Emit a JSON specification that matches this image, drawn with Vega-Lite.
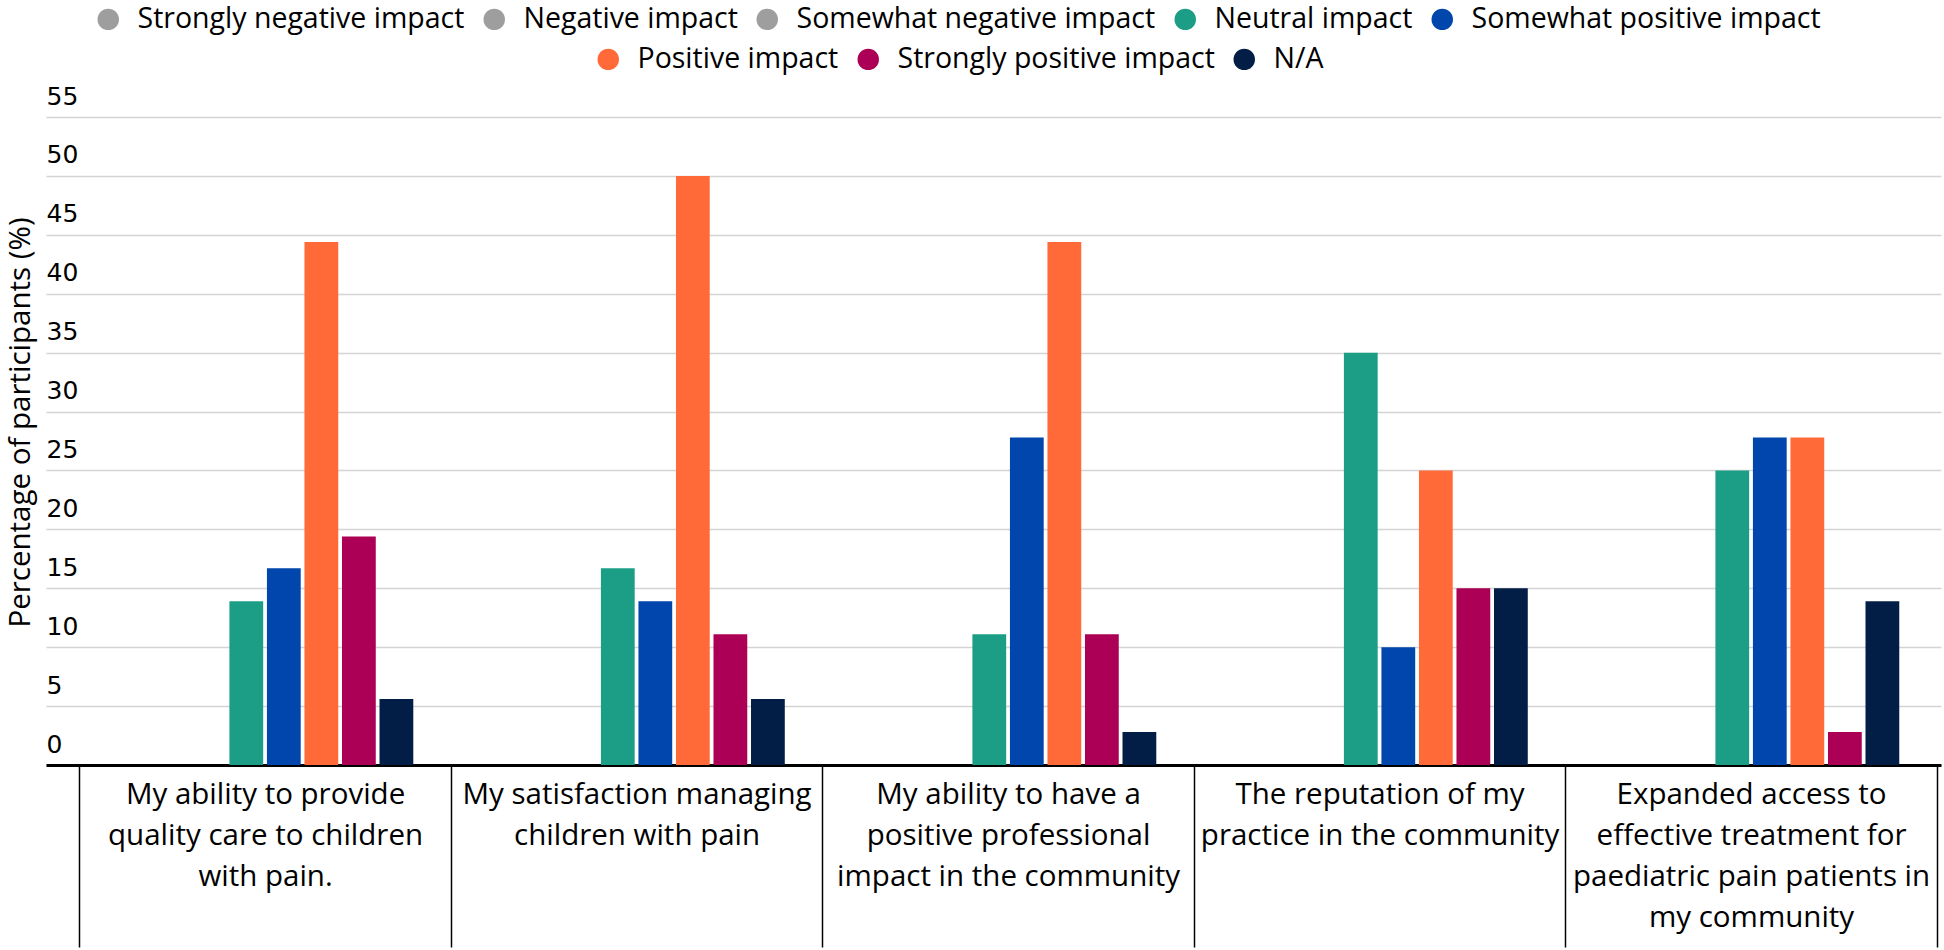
{
  "$schema": "https://vega.github.io/schema/vega-lite/v6.json",
  "autosize": "none",
  "width": 1895,
  "height": 648,
  "padding": {"left": 46, "top": 117, "right": 3, "bottom": 185},
  "background": "white",
  "config": {"view": {"stroke": null}, "font": "Open Sans"},
  "data": {"values": [
    {"q": "My ability to provide|quality care to children|with pain.", "r": "Strongly negative impact", "v": 0},
    {"q": "My ability to provide|quality care to children|with pain.", "r": "Negative impact", "v": 0},
    {"q": "My ability to provide|quality care to children|with pain.", "r": "Somewhat negative impact", "v": 0},
    {"q": "My ability to provide|quality care to children|with pain.", "r": "Neutral impact", "v": 13.9},
    {"q": "My ability to provide|quality care to children|with pain.", "r": "Somewhat positive impact", "v": 16.7},
    {"q": "My ability to provide|quality care to children|with pain.", "r": "Positive impact", "v": 44.4},
    {"q": "My ability to provide|quality care to children|with pain.", "r": "Strongly positive impact", "v": 19.4},
    {"q": "My ability to provide|quality care to children|with pain.", "r": "N/A", "v": 5.6},
    {"q": "My satisfaction managing|children with pain", "r": "Strongly negative impact", "v": 0},
    {"q": "My satisfaction managing|children with pain", "r": "Negative impact", "v": 0},
    {"q": "My satisfaction managing|children with pain", "r": "Somewhat negative impact", "v": 0},
    {"q": "My satisfaction managing|children with pain", "r": "Neutral impact", "v": 16.7},
    {"q": "My satisfaction managing|children with pain", "r": "Somewhat positive impact", "v": 13.9},
    {"q": "My satisfaction managing|children with pain", "r": "Positive impact", "v": 50},
    {"q": "My satisfaction managing|children with pain", "r": "Strongly positive impact", "v": 11.1},
    {"q": "My satisfaction managing|children with pain", "r": "N/A", "v": 5.6},
    {"q": "My ability to have a|positive professional|impact in the community", "r": "Strongly negative impact", "v": 0},
    {"q": "My ability to have a|positive professional|impact in the community", "r": "Negative impact", "v": 0},
    {"q": "My ability to have a|positive professional|impact in the community", "r": "Somewhat negative impact", "v": 0},
    {"q": "My ability to have a|positive professional|impact in the community", "r": "Neutral impact", "v": 11.1},
    {"q": "My ability to have a|positive professional|impact in the community", "r": "Somewhat positive impact", "v": 27.8},
    {"q": "My ability to have a|positive professional|impact in the community", "r": "Positive impact", "v": 44.4},
    {"q": "My ability to have a|positive professional|impact in the community", "r": "Strongly positive impact", "v": 11.1},
    {"q": "My ability to have a|positive professional|impact in the community", "r": "N/A", "v": 2.8},
    {"q": "The reputation of my|practice in the community", "r": "Strongly negative impact", "v": 0},
    {"q": "The reputation of my|practice in the community", "r": "Negative impact", "v": 0},
    {"q": "The reputation of my|practice in the community", "r": "Somewhat negative impact", "v": 0},
    {"q": "The reputation of my|practice in the community", "r": "Neutral impact", "v": 35},
    {"q": "The reputation of my|practice in the community", "r": "Somewhat positive impact", "v": 10},
    {"q": "The reputation of my|practice in the community", "r": "Positive impact", "v": 25},
    {"q": "The reputation of my|practice in the community", "r": "Strongly positive impact", "v": 15},
    {"q": "The reputation of my|practice in the community", "r": "N/A", "v": 15},
    {"q": "Expanded access to|effective treatment for|paediatric pain patients in|my community", "r": "Strongly negative impact", "v": 0},
    {"q": "Expanded access to|effective treatment for|paediatric pain patients in|my community", "r": "Negative impact", "v": 0},
    {"q": "Expanded access to|effective treatment for|paediatric pain patients in|my community", "r": "Somewhat negative impact", "v": 0},
    {"q": "Expanded access to|effective treatment for|paediatric pain patients in|my community", "r": "Neutral impact", "v": 25},
    {"q": "Expanded access to|effective treatment for|paediatric pain patients in|my community", "r": "Somewhat positive impact", "v": 27.8},
    {"q": "Expanded access to|effective treatment for|paediatric pain patients in|my community", "r": "Positive impact", "v": 27.8},
    {"q": "Expanded access to|effective treatment for|paediatric pain patients in|my community", "r": "Strongly positive impact", "v": 2.8},
    {"q": "Expanded access to|effective treatment for|paediatric pain patients in|my community", "r": "N/A", "v": 13.9}
  ]},
  "encoding": {
    "x": {
      "field": "q", "type": "nominal", "sort": null,
      "scale": {"paddingInner": 0, "paddingOuter": 0.0505, "align": 0.888},
      "axis": {
        "title": null, "domainColor": "black", "domainWidth": 3,
        "tickBand": "extent", "tickColor": "black", "tickWidth": 1.5, "tickSize": 182,
        "labelPadding": -167, "labelFont": "Open Sans", "labelFontSize": 29.5, "labelColor": "black",
        "labelAngle": 0, "labelBaseline": "top", "labelLineHeight": 41, "labelLimit": 0,
        "labelOverlap": false, "labelExpr": "split(datum.label, '|')", "grid": false
      }
    },
    "xOffset": {
      "field": "r", "type": "nominal",
      "scale": {
        "domain": ["Strongly negative impact", "Negative impact", "Somewhat negative impact", "Neutral impact", "Somewhat positive impact", "Positive impact", "Strongly positive impact", "N/A"],
        "paddingInner": 0.1, "paddingOuter": 1.68
      }
    },
    "y": {
      "field": "v", "type": "quantitative",
      "scale": {"domain": [0, 55], "nice": false},
      "axis": {
        "title": "Percentage of participants (%)",
        "values": [0, 5, 10, 15, 20, 25, 30, 35, 40, 45, 50, 55],
        "domain": false, "ticks": false, "tickSize": 0, "grid": true,
        "gridColor": "#d4d4d4", "gridWidth": 1.5,
        "labelAlign": "left", "labelBaseline": "middle", "labelPadding": 0, "labelOffset": -21,
        "labelFont": "DejaVu Sans", "labelFontSize": 25, "labelColor": "black",
        "labelFlush": false, "labelOverlap": false,
        "titleFont": "Open Sans", "titleFontSize": 29.5, "titleFontWeight": "normal", "titleColor": "black",
        "titleX": -26, "titleY": 305, "titleAngle": -90, "titleAlign": "center", "titleBaseline": "middle"
      }
    }
  },
  "layer": [
    {
      "transform": [{"filter": {"field": "r", "oneOf": ["Strongly negative impact", "Negative impact", "Somewhat negative impact", "Neutral impact", "Somewhat positive impact"]}}],
      "mark": {"type": "bar"},
      "encoding": {
        "color": {
          "field": "r", "type": "nominal",
          "scale": {
            "domain": ["Strongly negative impact", "Negative impact", "Somewhat negative impact", "Neutral impact", "Somewhat positive impact"],
            "range": ["#9e9e9e", "#9e9e9e", "#9e9e9e", "#1b9e85", "#0046ac"]
          },
          "legend": {
            "orient": "none", "legendX": 48, "legendY": -112, "direction": "horizontal", "title": null,
            "symbolType": "circle", "symbolSize": 460, "symbolStrokeWidth": 0,
            "labelFont": "Open Sans", "labelFontSize": 28.5, "labelColor": "black",
            "columnPadding": 15, "labelOffset": 15, "labelLimit": 0
          }
        }
      }
    },
    {
      "transform": [{"filter": {"field": "r", "oneOf": ["Positive impact", "Strongly positive impact", "N/A"]}}],
      "mark": {"type": "bar"},
      "encoding": {
        "color": {
          "field": "r", "type": "nominal",
          "scale": {
            "domain": ["Positive impact", "Strongly positive impact", "N/A"],
            "range": ["#ff6a38", "#ab0055", "#021e46"]
          },
          "legend": {
            "orient": "none", "legendX": 548, "legendY": -72, "direction": "horizontal", "title": null,
            "symbolType": "circle", "symbolSize": 460, "symbolStrokeWidth": 0,
            "labelFont": "Open Sans", "labelFontSize": 28.5, "labelColor": "black",
            "columnPadding": 15, "labelOffset": 15, "labelLimit": 0
          }
        }
      }
    }
  ],
  "resolve": {"scale": {"color": "independent"}}
}
